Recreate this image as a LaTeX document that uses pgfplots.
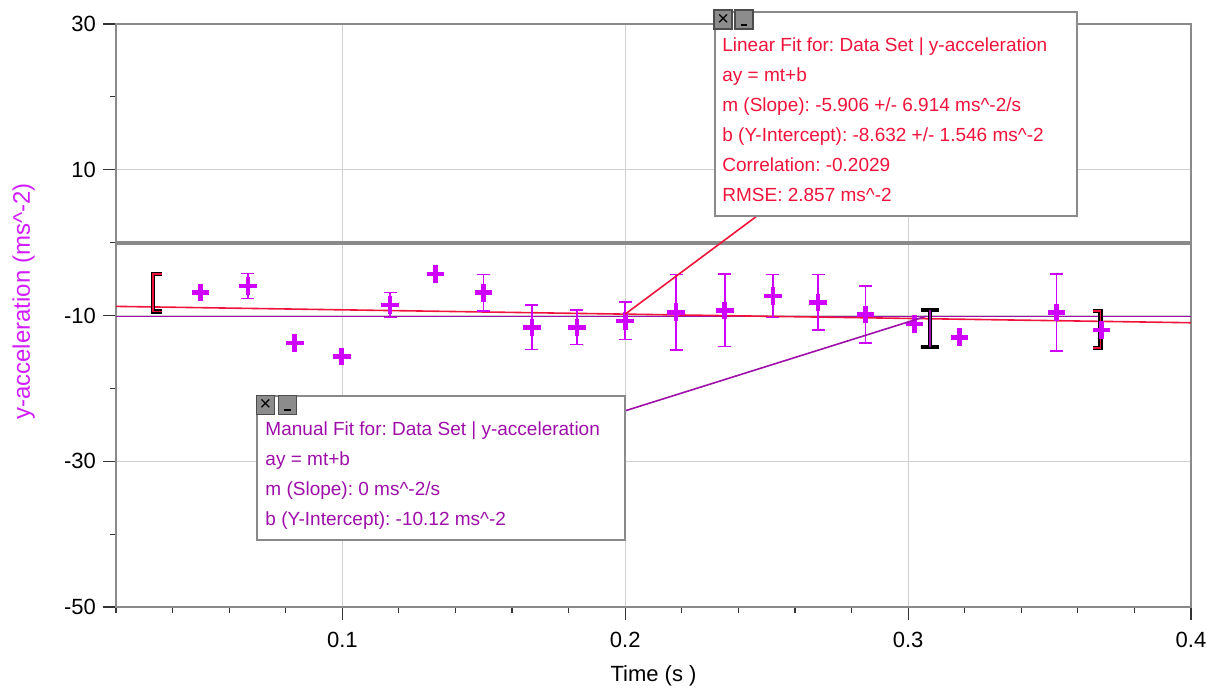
\documentclass[border=0pt]{standalone}
\usepackage{fontspec}
\setmainfont{Liberation Sans}
\usepackage{pgfplots}
\pgfplotsset{compat=1.18}
\definecolor{pts}{HTML}{D000FF}
\definecolor{fitred}{HTML}{F0143C}
\definecolor{fitpur}{HTML}{9E0FAA}
\definecolor{frame}{HTML}{8A8A8A}
\definecolor{gridc}{HTML}{D0D0D0}
\definecolor{ylab}{HTML}{D21EFF}
\definecolor{btn}{HTML}{8C8C8C}
\frenchspacing

\begin{document}
\begin{tikzpicture}
\begin{axis}[at={(58pt,40.5pt)}, anchor=south west, scale only axis,
  width=537.5pt, height=291.5pt,
  xmin=0.02, xmax=0.4, ymin=-50, ymax=30,
  xtick={0.1,0.2,0.3,0.4}, xticklabels={0.1,0.2,0.3,0.4},
  minor xtick={0.02,0.04,0.06,0.08,0.12,0.14,0.16,0.18,0.22,0.24,0.26,0.28,0.32,0.34,0.36,0.38},
  ytick={-50,-30,-10,10,30}, minor ytick={-40,-20,0,20},
  xtick pos=bottom, ytick pos=left,
  tick align=outside, major tick length=6.5pt, minor tick length=3.2pt,
  tick style={black!80, line width=0.6pt},
  grid=major, major grid style={gridc, line width=0.5pt},
  axis line style={frame, line width=1pt},
  /pgf/number format/assume math mode=true,
  tick label style={font=\fontsize{11}{12}\selectfont},
  xticklabel style={yshift=-2.5pt},
  xlabel={Time (s )},
  ylabel={y-acceleration (ms\textasciicircum-2)},
  xlabel style={font=\fontsize{11}{12}\selectfont, at={(axis description cs:0.5,-0.118)}, anchor=center},
  ylabel style={font=\fontsize{12}{13}\selectfont, at={(axis description cs:-0.086,0.524)}, anchor=center, text=ylab},
  clip=false]

% zero line
\addplot[frame, line width=2pt] coordinates {(0.02,0) (0.4,0)};
% manual fit: b = -10.12
\addplot[fitpur, line width=0.8pt] coordinates {(0.02,-10.12) (0.4,-10.12)};
% linear fit: m = -5.906, b = -8.632
\addplot[fitred, line width=0.8pt] coordinates {(0.02,-8.750) (0.4,-10.994)};

% points without error bars
\addplot[only marks, mark=+, mark size=4.4pt, pts, mark options={line width=2.3pt}]
  coordinates {(0.0498,-6.86) (0.0832,-13.80) (0.0998,-15.64) (0.1329,-4.29)
               (0.3023,-11.15) (0.3182,-12.98) (0.3684,-11.98)};

% points with error bars
\addplot[only marks, mark=+, mark size=4.4pt, pts, mark options={line width=2.3pt},
  error bars/.cd, y dir=both, y explicit,
  error bar style={line width=0.8pt, pts},
  error mark options={pts, line width=0.8pt, mark size=3.3pt, rotate=90}]
  coordinates {
  (0.0666,-5.94) +- (0,1.72)
  (0.1169,-8.58) +- (0,1.72)
  (0.1499,-6.88) +- (0,2.49)
  (0.1670,-11.64) +- (0,3.05)
  (0.1829,-11.63) +- (0,2.36)
  (0.2000,-10.75) +- (0,2.57)
  (0.2180,-9.56) +- (0,5.17)
  (0.2352,-9.30) +- (0,4.97)
  (0.2522,-7.34) +- (0,2.95)
  (0.2682,-8.19) +- (0,3.80)
  (0.2850,-9.87) +- (0,3.93)
  (0.3525,-9.60) +- (0,5.30)
  };

% range brackets
\addplot[black, line width=2.2pt] coordinates {(0.0361,-4.29) (0.0330,-4.29) (0.0330,-9.46) (0.0361,-9.46)};
\addplot[fitred, line width=0.8pt] coordinates {(0.0361,-4.29) (0.0330,-4.29) (0.0330,-9.46) (0.0361,-9.46)};
\addplot[black, line width=2.2pt] coordinates {(0.3045,-9.23) (0.3109,-9.23) (0.3077,-9.23) (0.3077,-14.31) (0.3045,-14.31) (0.3109,-14.31)};
\addplot[fitpur, line width=0.8pt] coordinates {(0.3077,-9.23) (0.3077,-14.31)};
\addplot[black, line width=2.2pt] coordinates {(0.3652,-9.37) (0.3680,-9.37) (0.3680,-14.49) (0.3652,-14.49)};
\addplot[fitred, line width=0.8pt] coordinates {(0.3652,-9.37) (0.3680,-9.37) (0.3680,-14.49) (0.3652,-14.49)};

% annotation anchors
\coordinate (r0) at (axis cs:0.2,-9.81);
\coordinate (r1) at (axis cs:0.2466,3.66);
\coordinate (p0) at (axis cs:0.1999,-23.09);
\coordinate (p1) at (axis cs:0.3063,-10.12);
\coordinate (b1a) at (axis cs:0.2317,31.69);
\coordinate (b1b) at (axis cs:0.3596,3.66);
\coordinate (b2a) at (axis cs:0.0698,-20.99);
\coordinate (b2b) at (axis cs:0.1999,-40.78);
\coordinate (t1) at (axis cs:0.2342,26.89);
\coordinate (t2) at (axis cs:0.0727,-25.83);
\coordinate (x1) at (axis cs:0.2346,30.62);
\coordinate (u1) at (axis cs:0.2420,30.62);
\coordinate (x2) at (axis cs:0.0728,-22.26);
\coordinate (u2) at (axis cs:0.0806,-22.26);
\end{axis}

\draw[fitred, line width=0.8pt] (r0) -- (r1);
\draw[fitpur, line width=0.8pt] (p0) -- (p1);

\tikzset{boxtxt/.style={anchor=west, inner sep=0pt, text height=7pt, text depth=2pt,
  font=\fontsize{9.5}{10}\selectfont},
  btnbox/.style={draw=black!70, fill=btn, line width=0.6pt, minimum width=9pt,
  minimum height=9.5pt, inner sep=0pt, font=\fontsize{10}{10}\selectfont}}

\draw[frame, line width=1pt, fill=white] (b1a) rectangle (b1b);
\foreach \s [count=\i from 0] in {{Linear Fit for: Data Set | y-acceleration},{ay = mt+b},
  {m (Slope): -5.906 +/- 6.914 ms\textasciicircum-2/s},
  {b (Y-Intercept): -8.632 +/- 1.546 ms\textasciicircum-2},
  {Correlation: -0.2029},{RMSE: 2.857 ms\textasciicircum-2}}
  \node[boxtxt, text=fitred] at ([yshift=-\i*15pt]t1) {\s};
\node[btnbox] at (x1) {×};
\node[btnbox] (ub1) at (u1) {};
\draw[black, line width=1pt] ([xshift=-1.6pt,yshift=2.4pt]ub1.south) -- ([xshift=1.6pt,yshift=2.4pt]ub1.south);

\draw[frame, line width=1pt, fill=white] (b2a) rectangle (b2b);
\foreach \s [count=\i from 0] in {{Manual Fit for: Data Set | y-acceleration},{ay = mt+b},
  {m (Slope): 0 ms\textasciicircum-2/s},{b (Y-Intercept): -10.12 ms\textasciicircum-2}}
  \node[boxtxt, text=fitpur] at ([yshift=-\i*15pt]t2) {\s};
\node[btnbox] at (x2) {×};
\node[btnbox] (ub2) at (u2) {};
\draw[black, line width=1pt] ([xshift=-1.6pt,yshift=2.4pt]ub2.south) -- ([xshift=1.6pt,yshift=2.4pt]ub2.south);

\pgfresetboundingbox
\path (0,0) rectangle (605.5pt,344pt);
\end{tikzpicture}
\end{document}
